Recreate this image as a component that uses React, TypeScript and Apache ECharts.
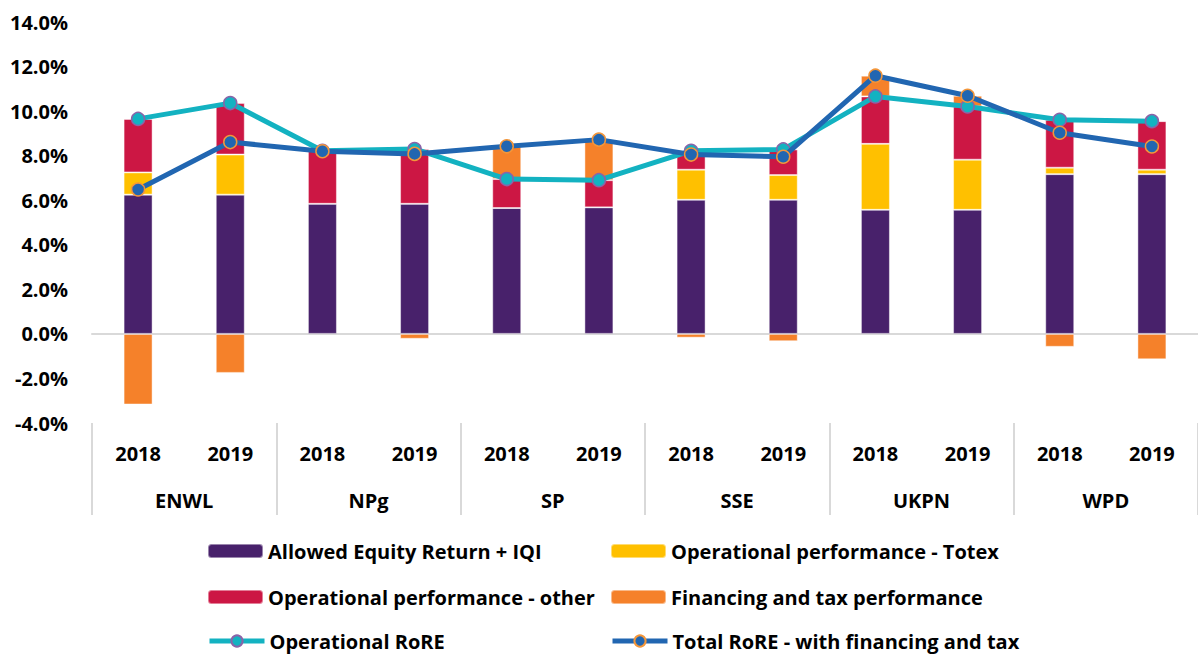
import React, { useEffect, useRef } from "react";
import * as echarts from "echarts";

const years = ["2018", "2019", "2018", "2019", "2018", "2019", "2018", "2019", "2018", "2019", "2018", "2019"];
const companies = ["ENWL", "NPg", "SP", "SSE", "UKPN", "WPD"];

const allowedEquity = [6.25, 6.25, 5.84, 5.84, 5.65, 5.68, 6.02, 6.02, 5.57, 5.57, 7.17, 7.17];
const opTotex = [1.0, 1.8, 0, 0, 0, 0, 1.35, 1.11, 2.96, 2.25, 0.29, 0.2];
const opOther = [2.4, 2.31, 2.38, 2.46, 1.3, 1.22, 0.85, 1.15, 2.13, 2.39, 2.15, 2.18];
const financingTax = [-3.17, -1.75, 0, -0.22, 1.47, 1.82, -0.17, -0.33, 0.93, 0.48, -0.58, -1.14];
const operationalRoRE = [9.65, 10.36, 8.22, 8.3, 6.95, 6.9, 8.22, 8.28, 10.66, 10.21, 9.61, 9.55];
const totalRoRE = [6.48, 8.61, 8.2, 8.08, 8.42, 8.72, 8.05, 7.95, 11.59, 10.69, 9.03, 8.41];

const FONT = "'Open Sans', 'Noto Sans', sans-serif";

export default function App() {
  const ref = useRef<HTMLDivElement>(null);

  useEffect(() => {
    if (!ref.current) return;
    const chart = echarts.init(ref.current, undefined, { renderer: "svg" });
    const textStyle = { fontSize: 20, fontWeight: "bold" as const, fontFamily: FONT, color: "#000", lineHeight: 20 };
    const barBorder = { borderColor: "rgba(255,255,255,0.45)", borderWidth: 1 };
    const legendDef = (name: string, left: number, cy: number) => ({
      data: [name],
      left,
      top: cy - 10,
      padding: 0,
      itemWidth: 55,
      itemHeight: 14,
      selectedMode: false,
      lineStyle: { width: 5 },
      textStyle,
    });
    chart.setOption({
      animation: false,
      grid: { left: 92, top: 22, width: 1110, height: 401, containLabel: false },
      legend: [
        legendDef("Allowed Equity Return + IQI", 207, 551),
        legendDef("Operational performance - Totex", 610, 551),
        legendDef("Operational performance - other", 207, 597),
        legendDef("Financing and tax performance", 610, 597),
        legendDef("Operational RoRE", 207, 641),
        legendDef("Total RoRE - with financing and tax", 610, 641),
      ],
      xAxis: [
        {
          type: "category",
          data: years,
          axisLine: { onZero: true, lineStyle: { color: "#d9d9d9", width: 2 } },
          axisTick: { show: false },
          axisLabel: { show: false },
        },
        {
          type: "category",
          data: years,
          position: "bottom",
          axisLine: { show: false, onZero: false },
          axisTick: { show: false },
          axisLabel: { margin: 20, ...textStyle },
        },
        {
          type: "category",
          data: companies,
          position: "bottom",
          axisLine: { show: false, onZero: false },
          axisTick: { show: true, length: 92, interval: 0, lineStyle: { color: "#d9d9d9", width: 2 } },
          axisLabel: { margin: 67, interval: 0, ...textStyle },
        },
      ],
      yAxis: {
        type: "value",
        min: -4,
        max: 14,
        interval: 2,
        axisLine: { show: false },
        axisTick: { show: false },
        splitLine: { show: false },
        axisLabel: {
          margin: 24,
          formatter: (v: number) => v.toFixed(1) + "%",
          ...textStyle,
        },
      },
      series: [
        {
          name: "Allowed Equity Return + IQI",
          type: "bar",
          stack: "rore",
          barWidth: 29,
          data: allowedEquity,
          itemStyle: { color: "#48216b", ...barBorder },
        },
        {
          name: "Operational performance - Totex",
          type: "bar",
          stack: "rore",
          barWidth: 29,
          data: opTotex,
          itemStyle: { color: "#ffc000", ...barBorder },
        },
        {
          name: "Operational performance - other",
          type: "bar",
          stack: "rore",
          barWidth: 29,
          data: opOther,
          itemStyle: { color: "#cc1744", ...barBorder },
        },
        {
          name: "Financing and tax performance",
          type: "bar",
          stack: "rore",
          barWidth: 29,
          data: financingTax,
          itemStyle: { color: "#f5812a", ...barBorder },
        },
        {
          name: "Operational RoRE",
          type: "line",
          data: operationalRoRE,
          symbol: "circle",
          symbolSize: 13,
          z: 5,
          lineStyle: { color: "#13b2c1", width: 5 },
          itemStyle: { color: "#13b2c1", borderColor: "#8a64a8", borderWidth: 1.5 },
        },
        {
          name: "Total RoRE - with financing and tax",
          type: "line",
          data: totalRoRE,
          symbol: "circle",
          symbolSize: 13,
          z: 6,
          lineStyle: { color: "#2166b1", width: 5 },
          itemStyle: { color: "#2166b1", borderColor: "#f3963a", borderWidth: 1.5 },
        },
      ],
    });
    return () => chart.dispose();
  }, []);

  return (
    <div
      ref={ref}
      style={{ position: "absolute", left: 0, top: 0, width: 1198, height: 655, background: "#fff" }}
    />
  );
}
